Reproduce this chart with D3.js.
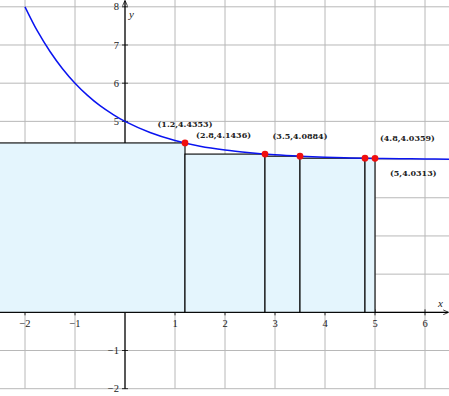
<!doctype html>
<html>
  <head>
    <script src="https://cdnjs.cloudflare.com/ajax/libs/d3/7.8.5/d3.min.js"></script>
    <style>
      body { margin: 0; background: #fff; }
      svg { display: block; }
      .grid line { stroke: #b8b8b8; stroke-width: 1px; }
      .tick-label { font-family: "Liberation Serif", "DejaVu Serif", serif; font-size: 10.5px; fill: #222; }
      .axis-name { font-family: "Liberation Serif", serif; font-style: italic; font-size: 11px; fill: #222; }
      .pt-label { font-family: "DejaVu Serif", serif; font-weight: bold; font-size: 8px; fill: #222; }
      .bar { fill: #e4f5fd; stroke: #000; stroke-width: 1.1px; }
    </style>
  </head>
  <body>
    <svg width="449" height="396"></svg>
    <script>
      // right endpoints of the rectangles and the curve value there
      var xBreaks = [1.2, 2.8, 3.5, 4.8, 5];
      var yValues = [4.4353, 4.1436, 4.0884, 4.0359, 4.0313];

      // curve points
      var curveX = [-2, -1.75, -1.5, -1.25, -1, -0.75, -0.5, -0.25, 0, 0.5, 1, 1.5, 2, 2.5, 3, 3.5, 4, 4.5, 5, 5.5, 6, 6.5];
      var curveY = [8, 7.36, 6.83, 6.38, 6, 5.68, 5.41, 5.19, 5, 4.71, 4.5, 4.35, 4.25, 4.18, 4.125, 4.088, 4.0625, 4.044, 4.031, 4.022, 4.016, 4.011];

      var xTicks = [-2, -1, 1, 2, 3, 4, 5, 6];
      var yTicks = [-2, -1, 1, 2, 3, 4, 5, 6, 7, 8];
      var xGrid = [-2, -1, 0, 1, 2, 3, 4, 5, 6];
      var yGrid = [-2, -1, 0, 1, 2, 3, 4, 5, 6, 7, 8];

      var W = 449, H = 396;
      var x = d3.scaleLinear().domain([-2.5, 6.48]).range([0, 449]);
      var y = d3.scaleLinear().domain([-2, 8]).range([388.7, 6.8]);

      var svg = d3.select("svg");

      svg.append("defs").append("marker")
          .attr("id", "arrow")
          .attr("viewBox", "0 -5 10 10")
          .attr("refX", 8).attr("refY", 0)
          .attr("markerWidth", 6).attr("markerHeight", 6)
          .attr("markerUnits", "userSpaceOnUse")
          .attr("orient", "auto")
        .append("path")
          .attr("d", "M0,-4L9,0L0,4")
          .attr("fill", "none").attr("stroke", "#000").attr("stroke-width", 1.2);

      // grid
      var grid = svg.append("g").attr("class", "grid");
      grid.selectAll("line.v").data(xGrid).enter().append("line")
          .attr("class", "v")
          .attr("x1", d => x(d)).attr("x2", d => x(d))
          .attr("y1", 0).attr("y2", y(-2));
      grid.selectAll("line.h").data(yGrid).enter().append("line")
          .attr("class", "h")
          .attr("x1", 0).attr("x2", W)
          .attr("y1", d => y(d)).attr("y2", d => y(d));

      // axes
      svg.append("line")
          .attr("x1", 0).attr("x2", W - 1)
          .attr("y1", y(0)).attr("y2", y(0))
          .attr("stroke", "#000").attr("stroke-width", 1.2)
          .attr("marker-end", "url(#arrow)");
      svg.append("line")
          .attr("x1", x(0)).attr("x2", x(0))
          .attr("y1", y(-2)).attr("y2", 1)
          .attr("stroke", "#000").attr("stroke-width", 1.2)
          .attr("marker-end", "url(#arrow)");

      // tick marks
      svg.selectAll("line.xt").data(xTicks).enter().append("line")
          .attr("x1", d => x(d)).attr("x2", d => x(d))
          .attr("y1", y(0) - 3).attr("y2", y(0) + 3)
          .attr("stroke", "#000").attr("stroke-width", 0.8);
      svg.selectAll("line.yt").data(yTicks).enter().append("line")
          .attr("x1", x(0) - 3).attr("x2", x(0) + 3)
          .attr("y1", d => y(d)).attr("y2", d => y(d))
          .attr("stroke", "#000").attr("stroke-width", 0.8);

      svg.selectAll("text.xl").data(xTicks).enter().append("text")
          .attr("class", "tick-label")
          .attr("x", d => x(d)).attr("y", y(0) + 15)
          .attr("text-anchor", "middle")
          .text(d => d < 0 ? "\u2212" + (-d) : d);
      svg.selectAll("text.yl").data(yTicks).enter().append("text")
          .attr("class", "tick-label")
          .attr("x", x(0) - 6).attr("y", d => y(d) + 3.6)
          .attr("text-anchor", "end")
          .text(d => d < 0 ? "\u2212" + (-d) : d);

      svg.append("text").attr("class", "axis-name")
          .attr("x", 438).attr("y", y(0) - 5).text("x");
      svg.append("text").attr("class", "axis-name")
          .attr("x", x(0) + 4).attr("y", 18).text("y");

      // rectangles, each using the value at its right end
      var bars = xBreaks.map((b, i) => ({
        x0: i === 0 ? x.domain()[0] - 0.1 : xBreaks[i - 1],
        x1: b,
        v: yValues[i]
      }));
      svg.selectAll("rect.bar").data(bars).enter().append("rect")
          .attr("class", "bar")
          .attr("x", d => x(d.x0))
          .attr("y", d => y(d.v))
          .attr("width", d => x(d.x1) - x(d.x0))
          .attr("height", d => y(0) - y(d.v));

      // curve
      var line = d3.line()
          .x((d, i) => x(curveX[i]))
          .y(d => y(d))
          .curve(d3.curveCatmullRom);
      svg.append("path")
          .datum(curveY)
          .attr("d", line)
          .attr("fill", "none")
          .attr("stroke", "#0a14f0")
          .attr("stroke-width", 1.5);

      // points
      var pts = xBreaks.map((b, i) => ({ x: b, v: yValues[i] }));
      svg.selectAll("circle").data(pts).enter().append("circle")
          .attr("cx", d => x(d.x)).attr("cy", d => y(d.v))
          .attr("r", 3.4)
          .attr("fill", "#f00f0f");

      // label placement: [dx, dy, anchor]
      var place = [[0, -16, "middle"], [-14, -16, "end"], [0, -17, "middle"], [15, -17, "start"], [15, 18, "start"]];
      svg.selectAll("text.pt-label").data(pts).enter().append("text")
          .attr("class", "pt-label")
          .attr("x", (d, i) => x(d.x) + place[i][0])
          .attr("y", (d, i) => y(d.v) + place[i][1])
          .attr("text-anchor", (d, i) => place[i][2])
          .text(d => "(" + d.x + "," + d.v + ")");
    </script>
  </body>
</html>
